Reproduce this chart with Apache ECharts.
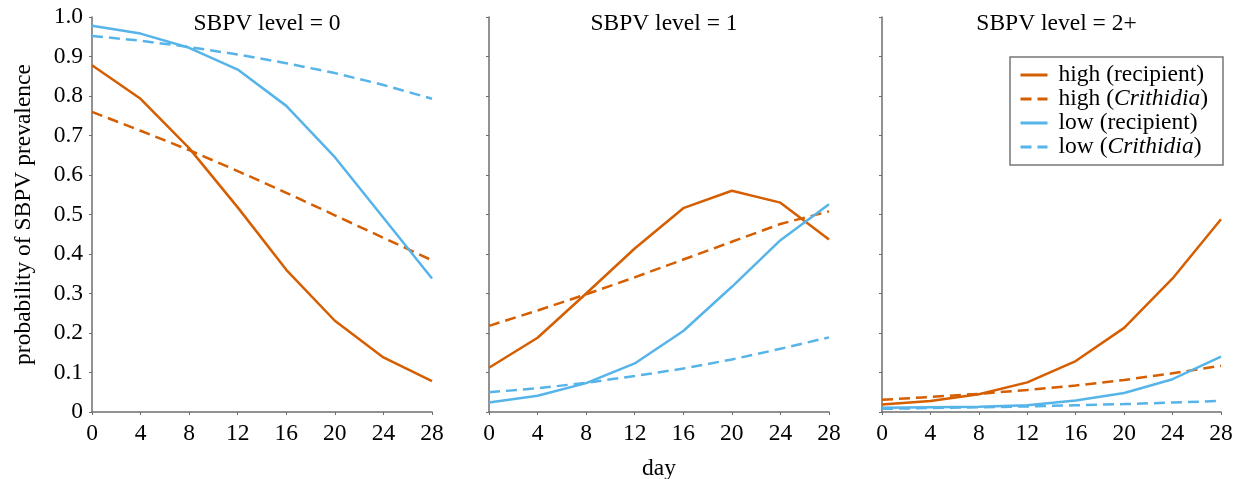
<!DOCTYPE html>
<html>
<head>
<meta charset="utf-8">
<script src="https://cdn.jsdelivr.net/npm/echarts@6/dist/echarts.min.js"></script>
<style>html,body{margin:0;padding:0;background:#fff;}#c{width:1242px;height:479px;}</style>
</head>
<body>
<div id="c"></div>
<script>
const days = [0, 4, 8, 12, 16, 20, 24, 28];
const panelTitles = ['SBPV level = 0', 'SBPV level = 1', 'SBPV level = 2+'];
const seriesNames = ['high (recipient)', 'high (Crithidia)', 'low (recipient)', 'low (Crithidia)'];

// SBPV level = 0
const highRecipient0 = [0.878, 0.793, 0.668, 0.518, 0.360, 0.231, 0.138, 0.078];
const highCrithidia0 = [0.760, 0.712, 0.663, 0.610, 0.555, 0.498, 0.441, 0.384];
const lowRecipient0  = [0.978, 0.958, 0.922, 0.867, 0.775, 0.645, 0.492, 0.338];
const lowCrithidia0  = [0.952, 0.940, 0.924, 0.905, 0.883, 0.858, 0.828, 0.793];
// SBPV level = 1
const highRecipient1 = [0.112, 0.188, 0.300, 0.414, 0.516, 0.560, 0.530, 0.437];
const highCrithidia1 = [0.218, 0.257, 0.298, 0.341, 0.386, 0.431, 0.476, 0.508];
const lowRecipient1  = [0.024, 0.041, 0.073, 0.123, 0.205, 0.317, 0.435, 0.526];
const lowCrithidia1  = [0.050, 0.060, 0.074, 0.091, 0.110, 0.133, 0.160, 0.189];
// SBPV level = 2+
const highRecipient2 = [0.019, 0.028, 0.045, 0.075, 0.129, 0.213, 0.338, 0.488];
const highCrithidia2 = [0.031, 0.038, 0.046, 0.056, 0.067, 0.081, 0.098, 0.117];
const lowRecipient2  = [0.011, 0.012, 0.013, 0.017, 0.029, 0.048, 0.083, 0.140];
const lowCrithidia2  = [0.008, 0.010, 0.012, 0.014, 0.017, 0.020, 0.024, 0.028];

const yTicks = [0, 0.1, 0.2, 0.3, 0.4, 0.5, 0.6, 0.7, 0.8, 0.9, 1.0];

const panels = [
  [highRecipient0, highCrithidia0, lowRecipient0, lowCrithidia0],
  [highRecipient1, highCrithidia1, lowRecipient1, lowCrithidia1],
  [highRecipient2, highCrithidia2, lowRecipient2, lowCrithidia2]
];

const ORANGE = '#D55E00', BLUE = '#56B4E9';
const styles = [
  {color: ORANGE, type: 'solid'},
  {color: ORANGE, type: [11, 6]},
  {color: BLUE, type: 'solid'},
  {color: BLUE, type: [11, 6]}
];
const FONT = '"Liberation Serif", "DejaVu Serif", serif';
const FS = 23.5;
const AX = '#6e6e6e';

const gridLefts = [92, 489, 882];
const gridWidths = [340, 340, 339];

const grids = gridLefts.map((l, i) => ({left: l, width: gridWidths[i], top: 17, height: 395, outerBoundsMode: 'none', containLabel: false}));

const xAxes = grids.map((g, i) => ({
  type: 'value', gridIndex: i, min: 0, max: 28, interval: 4,
  axisLine: {show: true, onZero: false, lineStyle: {color: AX, width: 1.5}},
  axisTick: {show: true, length: 3, lineStyle: {color: AX}},
  splitLine: {show: false},
  axisLabel: {color: '#000', fontFamily: FONT, fontSize: FS, margin: 10},
  name: i === 1 ? 'day' : '',
  nameLocation: 'middle', nameGap: 45, nameMoveOverlap: false,
  nameTextStyle: {color: '#000', fontFamily: FONT, fontSize: FS}
}));

const yAxes = grids.map((g, i) => ({
  type: 'value', gridIndex: i, min: 0, max: 1, interval: 0.1,
  axisLine: {show: true, lineStyle: {color: AX, width: 1.5}},
  axisTick: {show: true, length: 3, lineStyle: {color: AX}},
  splitLine: {show: false},
  axisLabel: {show: i === 0, color: '#000', fontFamily: FONT, fontSize: FS, margin: 9,
    formatter: v => { const t = yTicks.find(x => Math.abs(x - v) < 1e-6); if (t === undefined) return ''; return t === 0 ? '0' : t.toFixed(1); }},
  name: i === 0 ? 'probability of SBPV prevalence' : '',
  nameLocation: 'middle', nameGap: 56, nameRotate: 90, nameMoveOverlap: false,
  nameTextStyle: {color: '#000', fontFamily: FONT, fontSize: FS}
}));

const series = [];
panels.forEach((arrs, p) => {
  arrs.forEach((arr, k) => {
    series.push({
      name: seriesNames[k], type: 'line', xAxisIndex: p, yAxisIndex: p,
      data: days.map((d, j) => [d, arr[j]]),
      symbol: 'none', showSymbol: false, smooth: false, silent: true,
      lineStyle: {color: styles[k].color, type: styles[k].type, width: 2.5},
      itemStyle: {color: styles[k].color}
    });
  });
});

const titles = grids.map((g, i) => ({
  text: panelTitles[i], left: g.left + g.width / 2, top: 7, textAlign: 'center',
  textStyle: {color: '#000', fontFamily: FONT, fontSize: FS, fontWeight: 'normal'}
}));

const option = {
  animation: false,
  backgroundColor: '#fff',
  title: titles,
  grid: grids,
  xAxis: xAxes,
  yAxis: yAxes,
  legend: {
    orient: 'vertical', right: 19, top: 57,
    data: seriesNames,
    icon: 'inherit',
    itemWidth: 27, itemHeight: 14, itemGap: 0,
    itemStyle: {opacity: 0},
    lineStyle: {width: 3, type: 'inherit'},
    borderColor: '#777', borderWidth: 1.5, borderRadius: 0,
    padding: [6, 15, 6, 9],
    selectedMode: false,
    textStyle: {color: '#000', fontFamily: FONT, fontSize: FS, lineHeight: 23.5, padding: [0, 0, 0, 6],
      rich: {i: {fontStyle: 'italic', fontFamily: FONT, fontSize: FS, lineHeight: 23.5, color: '#000'}}},
    formatter: name => {
      const m = name.match(/^(.*)\((Crithidia)\)$/);
      return m ? m[1] + '({i|Crithidia})' : name;
    }
  },
  series: series
};

const chart = echarts.init(document.getElementById('c'), null, {renderer: 'canvas'});
chart.setOption(option);
</script>
</body>
</html>
